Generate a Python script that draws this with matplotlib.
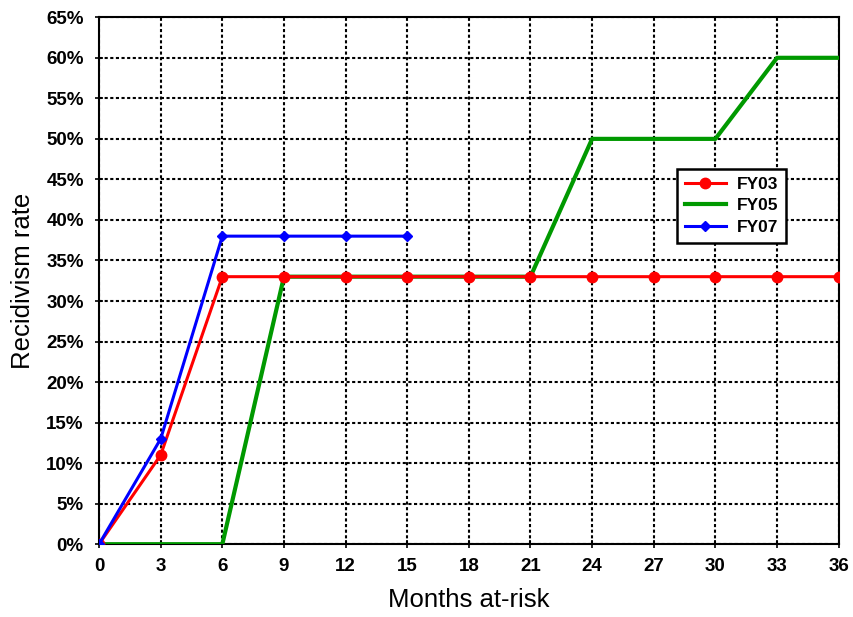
import matplotlib.pyplot as plt
from matplotlib.ticker import PercentFormatter

plt.rcParams['font.family'] = ['Liberation Sans', 'DejaVu Sans']

months = [0, 3, 6, 9, 12, 15, 18, 21, 24, 27, 30, 33, 36]
fy03 = [0, 11, 33, 33, 33, 33, 33, 33, 33, 33, 33, 33, 33]
fy05 = [0, 0, 0, 33, 33, 33, 33, 33, 50, 50, 50, 60, 60]
fy07_months = [0, 3, 6, 9, 12, 15]
fy07 = [0, 13, 38, 38, 38, 38]

fig = plt.figure(figsize=(8.54, 6.17), dpi=100)
ax = fig.add_axes([0.116, 0.118, 0.866, 0.854])

ax.plot(months, fy03, color='#ff0000', lw=2.2, marker='o', ms=7.5, label='FY03', zorder=4)
ax.plot(months, fy05, color='#009900', lw=3, label='FY05', zorder=3)
ax.plot(fy07_months, fy07, color='#0000ff', lw=2.2, marker='D', ms=5.5, label='FY07', zorder=5)

ax.set_xlim(0, 36)
ax.set_ylim(0, 65)
ax.set_xticks(range(0, 37, 3))
ax.set_yticks(range(0, 66, 5))
ax.yaxis.set_major_formatter(PercentFormatter(decimals=0))
ax.grid(True, color='black', linestyle=(0, (1.5, 1.2)), linewidth=1.5)
ax.tick_params(direction='inout', length=6, width=1.2, labelsize=13.5)
ax.tick_params(axis='y', pad=8)
ax.tick_params(axis='x', pad=7)
for lab in ax.get_xticklabels() + ax.get_yticklabels():
    lab.set_fontweight('bold')
for sp in ax.spines.values():
    sp.set_linewidth(1.5)
ax.set_xlabel('Months at-risk', fontsize=18.5, labelpad=9)
ax.set_ylabel('Recidivism rate', fontsize=18.5, labelpad=8)

leg = ax.legend(loc='center', bbox_to_anchor=(0.855, 0.642), fancybox=False,
                edgecolor='black', framealpha=1, prop={'weight': 'bold', 'size': 12.5},
                handlelength=2.4, borderpad=0.45, labelspacing=0.35, handletextpad=0.6)
leg.get_frame().set_linewidth(1.8)

fig.savefig('out.png', dpi=100)
